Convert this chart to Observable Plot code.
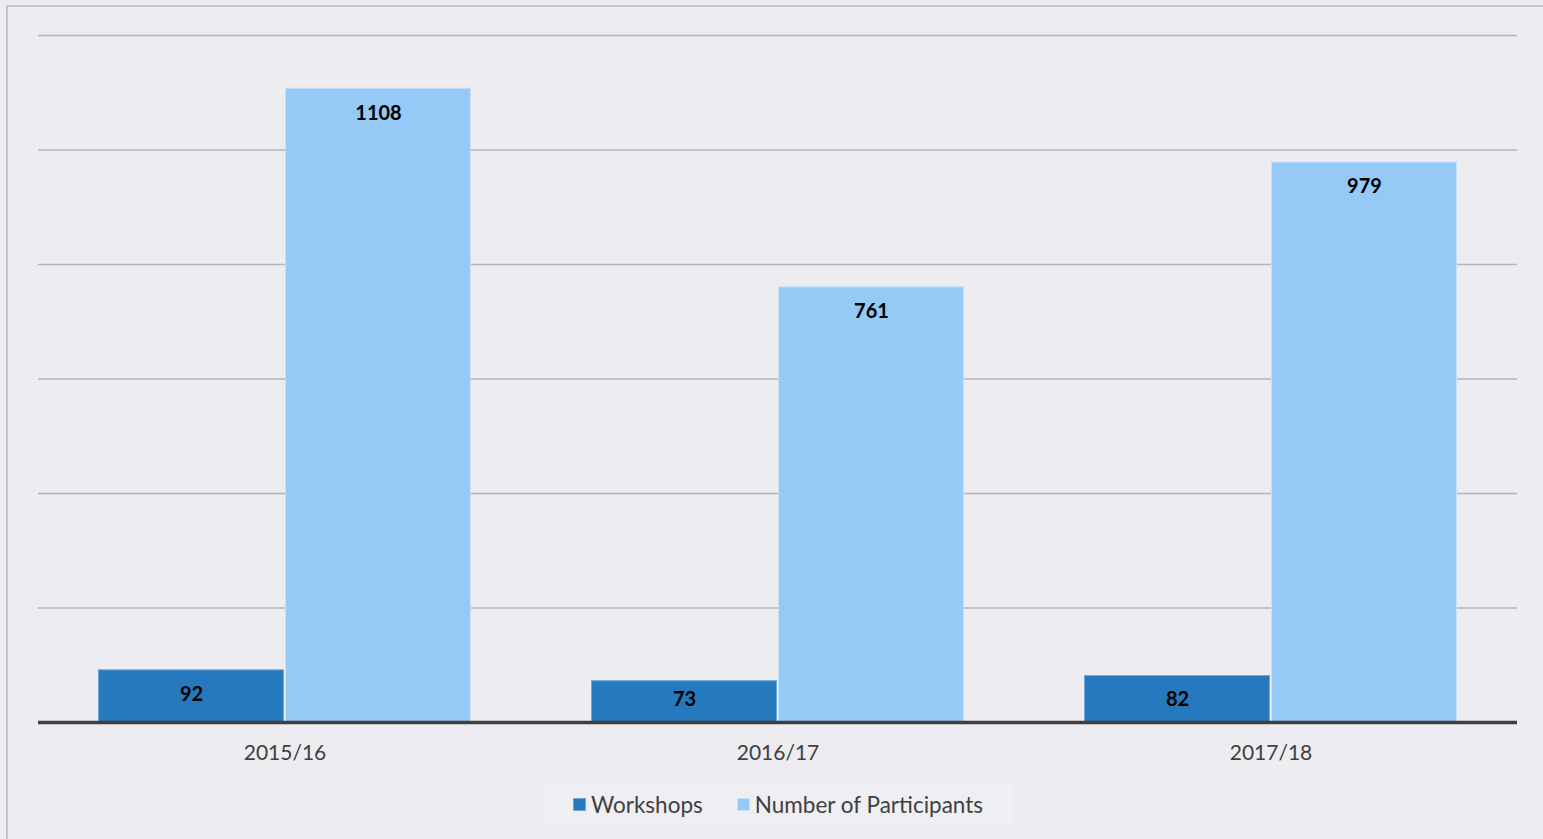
<!DOCTYPE html>
<html>
<head>
<meta charset="utf-8">
<script src="https://cdn.jsdelivr.net/npm/d3@7"></script>
<script src="https://cdn.jsdelivr.net/npm/@observablehq/plot@0.6"></script>
<style>
  html, body { margin: 0; padding: 0; background: #edecf1; width: 1543px; height: 839px; overflow: hidden; }
  #frame { position: absolute; left: 6px; top: 5px; width: 1600px; height: 900px; border: 2px solid #c6c6c8; box-sizing: border-box; pointer-events: none; }
  #chart { position: absolute; left: 0; top: 0; }
  #legend { position: absolute; left: 543px; top: 782px; width: 470px; height: 45px; background: #efeef3;
    display: flex; align-items: center; justify-content: center; gap: 34px;
    font-family: Lato, "Open Sans", sans-serif; font-size: 22.5px; color: #404040; }
  .item { display: flex; align-items: center; gap: 5px; }
  .sw { width: 13px; height: 13px; display: inline-block; }
</style>
</head>
<body>
<div id="frame"></div>
<div id="chart"></div>
<div id="legend"></div>
<script>
const years = ["2015/16", "2016/17", "2017/18"];
const seriesNames = ["Workshops", "Number of Participants"];
const workshops = [92, 73, 82];
const participants = [1108, 761, 979];
const colors = ["#2779bd", "#95c9f6"];
const strokes = ["#6ea7d8", "#c6e2fb"];
const yTicks = [0, 200, 400, 600, 800, 1000, 1200];

const rows = [];
years.forEach((y, i) => {
  rows.push({year: y, series: seriesNames[0], value: workshops[i]});
  rows.push({year: y, series: seriesNames[1], value: participants[i]});
});

const chart = Plot.plot({
  width: 1543,
  height: 775,
  marginLeft: 37,
  marginRight: 26,
  marginTop: 35,
  marginBottom: 53,
  style: {background: "transparent", fontFamily: "Lato, 'Open Sans', sans-serif", fontSize: "21px", color: "#404040"},
  fx: {domain: years, padding: 0, label: null, axis: "bottom", tickSize: 0, tickPadding: 23},
  x: {domain: seriesNames, paddingInner: 0.005, paddingOuter: 0.318, axis: null},
  y: {domain: [0, 1200], axis: null},
  color: {domain: seriesNames, range: colors},
  marks: [
    Plot.gridY(yTicks.filter(t => t > 0), {stroke: "#b4b4b9", strokeOpacity: 1, strokeWidth: 1.3}),
    Plot.barY(rows, {fx: "year", x: "series", y: "value", fill: "series",
      stroke: d => strokes[seriesNames.indexOf(d.series)], strokeWidth: 1, inset: 0.5}),
    Plot.text(rows, {fx: "year", x: "series", y: d => Math.max(d.value, 84), dy: 25,
      text: d => String(d.value), fill: "#000", fontWeight: "bold", fontSize: 20}),
    Plot.ruleY([0], {stroke: "#3f3f3f", strokeWidth: 3.5})
  ]
});
document.getElementById("chart").appendChild(chart);

const legend = document.getElementById("legend");
seriesNames.forEach((s, i) => {
  const item = document.createElement("div");
  item.className = "item";
  const sw = document.createElement("span");
  sw.className = "sw";
  sw.style.background = colors[i];
  sw.style.border = "1px solid " + strokes[i];
  sw.style.boxSizing = "border-box";
  const lab = document.createElement("span");
  lab.textContent = s;
  item.appendChild(sw);
  item.appendChild(lab);
  legend.appendChild(item);
});
</script>
</body>
</html>
